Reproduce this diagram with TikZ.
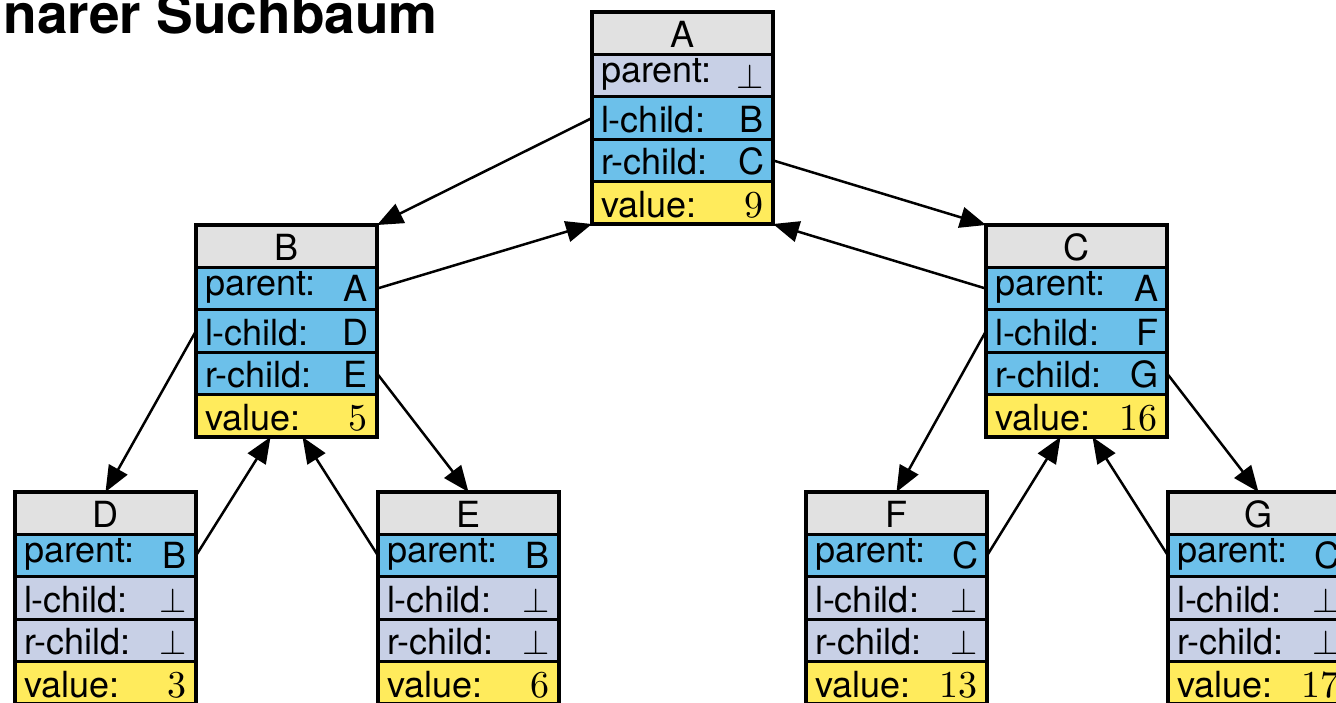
\documentclass[tikz,border=0pt]{standalone}
\usepackage[no-math]{fontspec}
\setsansfont{TeX Gyre Heros}
\usetikzlibrary{arrows.meta,calc}
\definecolor{hgray}{HTML}{E1E1E1}
\definecolor{plav}{HTML}{C8D0E6}
\definecolor{pblue}{HTML}{6CC0EA}
\definecolor{vyel}{HTML}{FFEB5C}
\newcommand\nil{\scalebox{3.5}{\normalsize$\bot$}}
\newcommand\num[1]{\scalebox{3.8}{\normalsize\rmfamily #1}}
\newcommand\hdrtxt[1]{\scalebox{3.6}{\normalsize\sffamily #1}}
\newcommand\labfont{\sffamily\fontsize{36}{40}\selectfont}
\tikzset{
  box/.style={draw=black, line width=3.1pt, minimum width=181pt, minimum height=42.4pt, inner sep=0pt, outer sep=0pt},
  hdr/.style={box, fill=hgray},
  ptrrow/.style={box, fill=pblue},
  nulrow/.style={box, fill=plav},
  valrow/.style={box, fill=vyel},
  rootp/.style={nulrow}, rootl/.style={ptrrow}, rootr/.style={ptrrow},
  innerp/.style={ptrrow}, innerl/.style={ptrrow}, innerr/.style={ptrrow},
  leafp/.style={ptrrow}, leafl/.style={nulrow}, leafr/.style={nulrow},
  hdrtext/.style={anchor=base, inner sep=0pt, outer sep=0pt},
  lab/.style={anchor=base west, inner sep=0pt, outer sep=0pt},
  val/.style={anchor=base east, inner sep=0pt, outer sep=0pt},
  link/.style={line width=2.5pt, -{Triangle[length=26pt,width=21pt]}}
}
% #1 name, #2 left, #3 top, #4 title, #5 parent, #6 l-child, #7 r-child, #8 value, #9 kind
\newcommand\recbox[9]{%
  \node[hdr] (#1-h) at (#2+90.5,#3+21.2) {};
  \node[box,#9p] (#1-p) at (#2+90.5,#3+63.6) {};
  \node[box,#9l] (#1-l) at (#2+90.5,#3+106) {};
  \node[box,#9r] (#1-r) at (#2+90.5,#3+148.4) {};
  \node[valrow] (#1-v) at (#2+90.5,#3+190.8) {};
  \node[hdrtext] (#1-t) at (#2+90.5,#3+35.5) {\hdrtxt{#4}};
  \node[lab] (#1-pl) at (#2+9,#3+70.5) {\labfont parent:};
  \node[val] (#1-pv) at (#2+172,#3+76.5) {\labfont #5};
  \node[lab] (#1-ll) at (#2+9,#3+120.5) {\labfont l-child:};
  \node[val] (#1-lv) at (#2+172,#3+120.5) {\labfont #6};
  \node[lab] (#1-rl) at (#2+9,#3+162.5) {\labfont r-child:};
  \node[val] (#1-rv) at (#2+172,#3+162.5) {\labfont #7};
  \node[lab] (#1-vl) at (#2+9,#3+205) {\labfont value:};
  \node[val] (#1-vv) at (#2+171,#3+205) {\num{#8}};
}
\begin{document}
\begin{tikzpicture}[x=1pt,y=-1pt]
\useasboundingbox (0,0) rectangle (1336,702);
\node[anchor=base east, inner sep=0pt] (title) at (438,33) {\sffamily\bfseries\fontsize{55}{60}\selectfont Binärer Suchbaum};
\recbox{A}{592}{12}{A}{\nil}{B}{C}{9}{root}
\recbox{B}{196}{225}{B}{A}{D}{E}{5}{inner}
\recbox{C}{986}{225}{C}{A}{F}{G}{16}{inner}
\recbox{D}{15}{492}{D}{B}{\nil}{\nil}{3}{leaf}
\recbox{E}{378}{492}{E}{B}{\nil}{\nil}{6}{leaf}
\recbox{F}{806}{492}{F}{C}{\nil}{\nil}{13}{leaf}
\recbox{G}{1168}{492}{G}{C}{\nil}{\nil}{17}{leaf}
\coordinate (B-in1) at ($(B-v.south)+(-16,0)$);
\coordinate (B-in2) at ($(B-v.south)+(16,0)$);
\coordinate (C-in1) at ($(C-v.south)+(-16,0)$);
\coordinate (C-in2) at ($(C-v.south)+(16,0)$);
\draw[link] (A-l.west) -- (B-h.north east);
\draw[link] (B-p.east) -- (A-v.south west);
\draw[link] (A-r.east) -- (C-h.north west);
\draw[link] (C-p.west) -- (A-v.south east);
\draw[link] (B-l.west) -- (D-h.north);
\draw[link] (D-p.east) -- (B-in1);
\draw[link] (B-r.east) -- (E-h.north);
\draw[link] (E-p.west) -- (B-in2);
\draw[link] (C-l.west) -- (F-h.north);
\draw[link] (F-p.east) -- (C-in1);
\draw[link] (C-r.east) -- (G-h.north);
\draw[link] (G-p.west) -- (C-in2);
\end{tikzpicture}
\end{document}
